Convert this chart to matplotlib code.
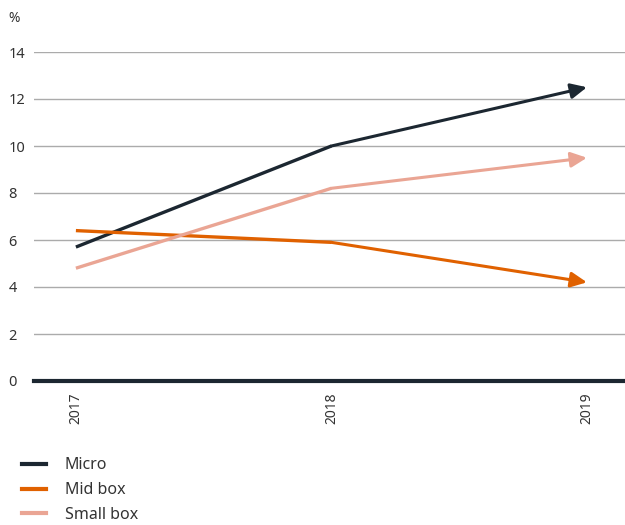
import matplotlib
matplotlib.use("Agg")
import matplotlib.pyplot as plt
from matplotlib.lines import Line2D

plt.rcParams['font.family'] = ['Noto Sans', 'DejaVu Sans']

years = ["2017", "2018", "2019"]
micro = [5.7, 10.0, 12.5]
mid_box = [6.4, 5.9, 4.2]
small_box = [4.8, 8.2, 9.5]
series_names = ["Micro", "Mid box", "Small box"]
colors = ["#1c2731", "#e06100", "#eaa594"]
y_ticks = [0, 2, 4, 6, 8, 10, 12, 14]

fig = plt.figure(figsize=(6.25, 5.25), dpi=100)
ax = fig.add_axes([34 / 625, 1 - 381 / 525, (625 - 34) / 625, (381 - 52) / 525])

x = list(range(len(years)))
for vals, col in zip([micro, mid_box, small_box], colors):
    ax.plot(x[:-1], vals[:-1], color=col, lw=2.4, solid_capstyle='butt', zorder=3)
    ax.annotate("", xy=(x[-1], vals[-1]), xytext=(x[-2], vals[-2]),
                arrowprops=dict(arrowstyle='-|>,head_length=0.8,head_width=0.38',
                                color=col, lw=2.2, shrinkA=0, shrinkB=0,
                                mutation_scale=12),
                zorder=3)

ax.set_ylim(0, 14)
ax.set_xlim(-0.164, 2.149)
ax.set_yticks(y_ticks)
ax.set_xticks(x)
ax.set_xticklabels(years, rotation=90, fontsize=10, color="#333333")
ax.set_yticklabels([str(v) for v in y_ticks], fontsize=10.5, color="#333333")
for lbl in ax.get_yticklabels():
    lbl.set_horizontalalignment('left')
ax.tick_params(axis='y', length=0, pad=18.5)
ax.tick_params(axis='x', length=0, pad=8)

for v in y_ticks[1:]:
    ax.axhline(v, color="#ababab", lw=1.0, zorder=1)
ax.axhline(0, color="#1c2731", lw=3.0, zorder=4, clip_on=False)

for s in ax.spines.values():
    s.set_visible(False)

fig.text(8 / 625, 1 - 18 / 525, "%", fontsize=10, color="#333333", va='center', ha='left')

handles = [Line2D([0], [0], color=c, lw=3) for c in colors]
fig.legend(handles, series_names, loc='upper left', bbox_to_anchor=(8 / 625, 1 - 443 / 525),
           frameon=False, fontsize=11.5, handlelength=1.45, handletextpad=1.2,
           labelspacing=0.55, labelcolor="#333333")

fig.savefig("out.png", dpi=100)
